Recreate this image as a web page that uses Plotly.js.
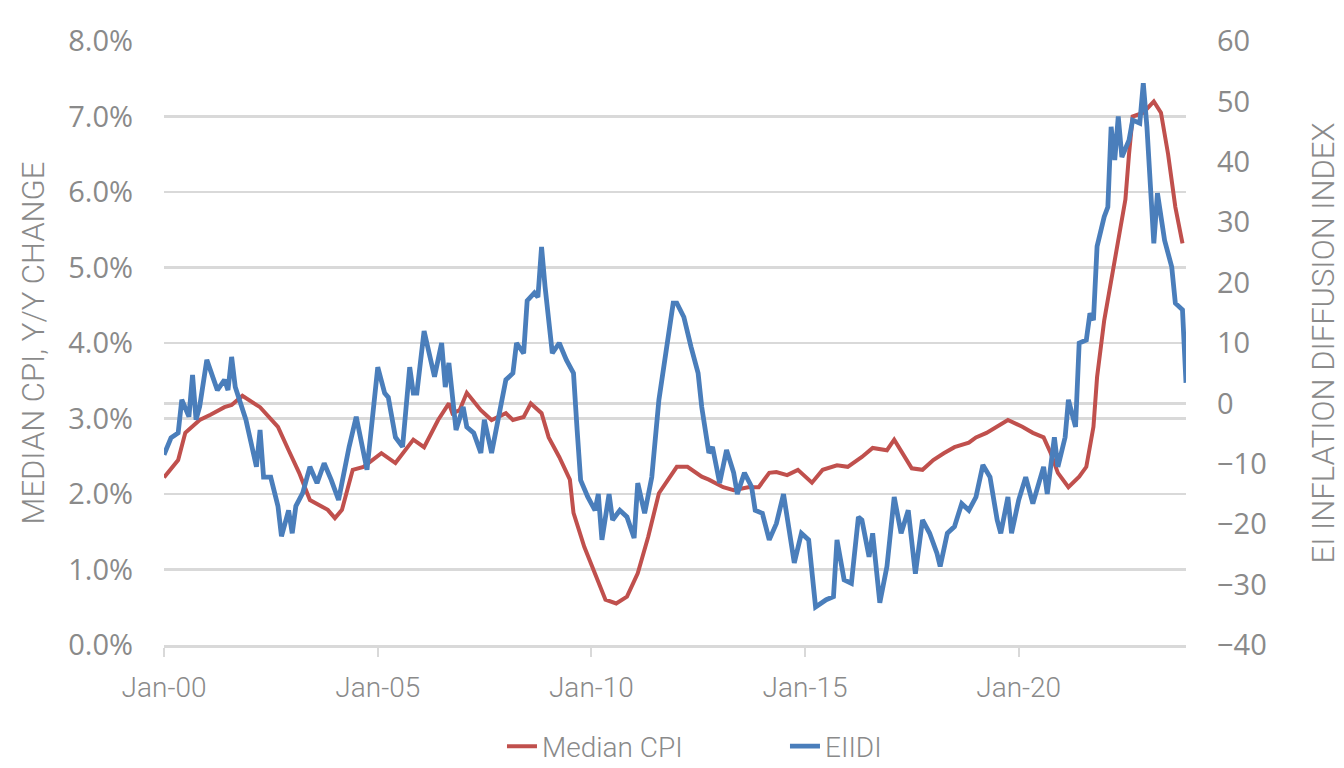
<!DOCTYPE html>
<html>
<head>
<meta charset="utf-8">
<script src="https://cdn.plot.ly/plotly-3.0.1.min.js"></script>
<style>
html,body{margin:0;padding:0;background:#fff;}
#chart{width:1344px;height:768px;}
</style>
</head>
<body>
<div id="chart"></div>
<script>
// Median CPI, Y/Y change (%)
const cpiDates = ["2000-01","2000-05","2000-07","2000-11","2001-02","2001-06","2001-08","2001-11","2002-04","2002-09","2002-12","2003-03","2003-06","2003-11","2004-01","2004-03","2004-06","2004-09","2005-02","2005-06","2005-11","2006-02","2006-06","2006-09","2006-10","2006-12","2007-02","2007-06","2007-09","2008-01","2008-03","2008-06","2008-08","2008-11","2009-01","2009-04","2009-07","2009-08","2009-11","2010-02","2010-05","2010-08","2010-11","2011-02","2011-05","2011-08","2011-11","2012-01","2012-04","2012-08","2012-10","2013-02","2013-05","2013-09","2013-12","2014-03","2014-05","2014-08","2014-11","2015-03","2015-06","2015-10","2016-01","2016-05","2016-08","2016-12","2017-02","2017-05","2017-07","2017-10","2018-01","2018-04","2018-07","2018-11","2019-01","2019-04","2019-07","2019-10","2020-02","2020-05","2020-08","2020-10","2020-12","2021-03","2021-06","2021-08","2021-10","2021-11","2022-01","2022-04","2022-07","2022-08","2022-09","2022-12","2023-03","2023-05","2023-07","2023-09","2023-11"];
const cpiValues = [2.22,2.45,2.81,2.98,3.05,3.15,3.18,3.30,3.15,2.89,2.58,2.28,1.92,1.79,1.68,1.79,2.32,2.36,2.54,2.41,2.72,2.62,2.98,3.20,3.07,3.11,3.34,3.11,2.98,3.07,2.98,3.02,3.20,3.07,2.75,2.49,2.19,1.75,1.30,0.95,0.60,0.55,0.64,0.95,1.43,2.01,2.23,2.36,2.36,2.23,2.19,2.09,2.05,2.09,2.09,2.28,2.29,2.25,2.32,2.15,2.32,2.38,2.36,2.49,2.61,2.58,2.72,2.49,2.34,2.32,2.45,2.54,2.62,2.68,2.75,2.81,2.89,2.98,2.89,2.81,2.75,2.54,2.28,2.09,2.23,2.36,2.89,3.55,4.30,5.10,5.90,6.50,7.00,7.05,7.20,7.05,6.50,5.80,5.32];

// EI Inflation Diffusion Index
const eiidiDates = ["2000-01","2000-03","2000-05","2000-06","2000-08","2000-09","2000-10","2000-11","2001-01","2001-02","2001-04","2001-06","2001-07","2001-08","2001-09","2001-12","2002-02","2002-03","2002-04","2002-05","2002-07","2002-09","2002-10","2002-12","2003-01","2003-02","2003-04","2003-06","2003-08","2003-10","2003-12","2004-02","2004-05","2004-07","2004-10","2005-01","2005-03","2005-04","2005-06","2005-08","2005-10","2005-11","2005-12","2006-02","2006-05","2006-07","2006-08","2006-09","2006-11","2007-01","2007-02","2007-04","2007-06","2007-07","2007-09","2007-11","2008-01","2008-03","2008-04","2008-06","2008-07","2008-09","2008-10","2008-11","2008-12","2009-02","2009-04","2009-06","2009-08","2009-09","2009-10","2009-12","2010-02","2010-03","2010-04","2010-06","2010-07","2010-09","2010-11","2011-01","2011-02","2011-04","2011-06","2011-08","2011-10","2011-12","2012-01","2012-03","2012-05","2012-07","2012-08","2012-10","2012-11","2013-01","2013-03","2013-05","2013-06","2013-08","2013-10","2013-11","2014-01","2014-03","2014-05","2014-07","2014-10","2014-12","2015-02","2015-04","2015-07","2015-09","2015-10","2015-12","2016-02","2016-04","2016-05","2016-07","2016-08","2016-10","2016-12","2017-02","2017-04","2017-06","2017-08","2017-10","2017-12","2018-02","2018-03","2018-05","2018-07","2018-09","2018-11","2019-01","2019-03","2019-05","2019-07","2019-08","2019-10","2019-11","2020-01","2020-03","2020-05","2020-08","2020-09","2020-11","2020-12","2021-02","2021-03","2021-05","2021-06","2021-08","2021-09","2021-10","2021-11","2022-01","2022-02","2022-03","2022-04","2022-05","2022-06","2022-08","2022-09","2022-11","2022-12","2023-01","2023-03","2023-04","2023-06","2023-08","2023-09","2023-11","2023-12"];
const eiidiValues = [-8.5,-5.7,-4.9,0.6,-2.2,4.7,-2.7,-0.5,7.2,5.5,2.2,3.9,2.2,7.7,2.7,-2.7,-7.7,-10.5,-4.4,-12.2,-12.2,-17,-22,-17.7,-21.5,-17,-14.8,-10.5,-13.2,-9.9,-12.7,-16,-7.2,-2.2,-11,6,1.7,1,-5.6,-7.2,6,1.7,1.7,12,4.4,10,2.7,6.7,-4.4,-0.6,-3.9,-4.9,-8.2,-2.7,-8.2,-1.6,3.9,5,10,8.3,17,18.3,17.6,25.9,19.3,8.3,10,7.2,5,-4.4,-12.7,-15.5,-17.7,-15,-22.6,-15,-19.3,-17.7,-18.8,-22.3,-13.2,-18.2,-12.2,0.6,8.3,16.6,16.6,14.3,9.4,5,-0.6,-8.2,-7.2,-13.2,-7.7,-11.5,-15,-11.5,-13.8,-17.7,-18.2,-22.6,-19.9,-15,-26.4,-21.5,-22.6,-33.7,-32.5,-32,-22.6,-29.2,-29.8,-18.8,-19.3,-25.4,-21.5,-33,-27,-15.5,-21.5,-17.7,-28.2,-19.3,-21.5,-24.8,-27,-21.5,-20.4,-16.6,-17.7,-15.5,-10.2,-12.2,-19.3,-21.5,-15.5,-21.5,-16,-12.2,-16.6,-10.5,-15,-5.6,-10.5,-5.6,0.6,-3.9,10,10.5,14.9,13.8,26,30.9,32.5,45.8,40.3,47.5,40.8,43.6,46.9,46.4,53,45.8,26.5,34.8,27,22.6,16.6,15.5,3.4];

const seriesNames = ["Median CPI", "EIIDI"];
const leftTitle = "MEDIAN CPI, Y/Y CHANGE";
const rightTitle = "EI INFLATION DIFFUSION INDEX";

const gray = "#8a8a8a";
const grid = "#d9d9d9";

const traces = [
  {x: cpiDates, y: cpiValues, name: seriesNames[0], type: "scatter", mode: "lines",
   line: {color: "#c0504d", width: 4}, yaxis: "y"},
  {x: eiidiDates, y: eiidiValues, name: seriesNames[1], type: "scatter", mode: "lines",
   line: {color: "#4a7ebb", width: 4.8}, yaxis: "y2"}
];

const layout = {
  width: 1344, height: 768,
  paper_bgcolor: "#ffffff", plot_bgcolor: "#ffffff",
  margin: {l: 164, r: 158, t: 41, b: 123, pad: 0, autoexpand: false},
  showlegend: true,
  legend: {orientation: "h", x: 0.3735, xanchor: "left", xref: "container",
           y: 0.028, yanchor: "middle", yref: "container",
           entrywidth: 238, entrywidthmode: "pixels",
           font: {family: "Roboto, sans-serif", size: 28, weight: 300, color: gray}},
  xaxis: {type: "date", range: ["2000-01-01", "2023-12-01"],
          tick0: "2000-01-01", dtick: "M60", tickformat: "%b-%y",
          showgrid: false, showline: true, linecolor: grid, linewidth: 2.5,
          ticks: "outside", ticklen: 9, tickwidth: 2, tickcolor: grid,
          ticklabelstandoff: 7, automargin: false,
          tickfont: {family: "Roboto, sans-serif", size: 28, weight: 300, color: gray}},
  yaxis: {range: [0, 8], dtick: 1, tickformat: ".1f", ticksuffix: "%",
          showgrid: true, gridcolor: grid, gridwidth: 2.5,
          zeroline: false, showline: false, ticks: "", automargin: false,
          ticklabelstandoff: 30,
          tickfont: {family: "Open Sans, sans-serif", size: 29, color: gray},
          title: {text: leftTitle, standoff: 14,
                  font: {family: "Roboto, sans-serif", size: 31, weight: 300, color: gray}}},
  yaxis2: {range: [-40, 60], dtick: 10, overlaying: "y", side: "right",
           showgrid: false, zeroline: true, zerolinecolor: grid, zerolinewidth: 2.5,
           showline: false, ticks: "", automargin: false,
           ticklabelstandoff: 30,
           tickfont: {family: "Open Sans, sans-serif", size: 29, color: gray},
           title: {text: rightTitle, standoff: 46,
                   font: {family: "Roboto, sans-serif", size: 31, weight: 300, color: gray}}}
};

Plotly.newPlot("chart", traces, layout, {displayModeBar: false, staticPlot: true});
</script>
</body>
</html>
